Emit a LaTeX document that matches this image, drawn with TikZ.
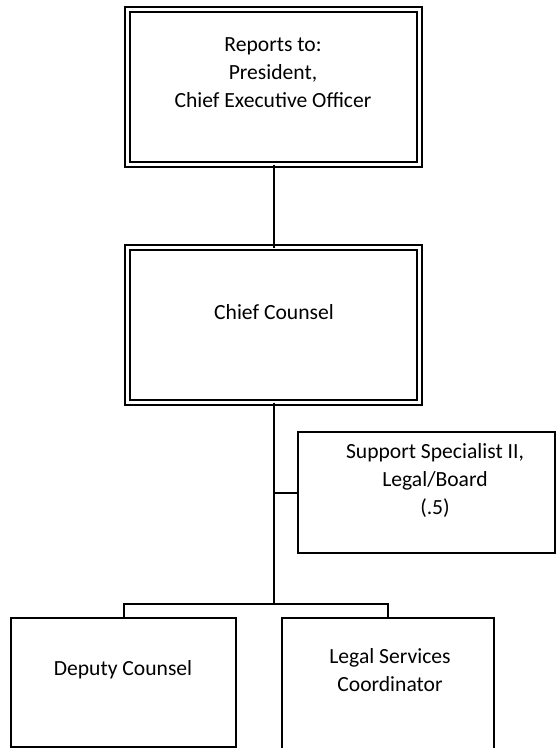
\documentclass[tikz,border=0pt]{standalone}
\usepackage{fontspec}
\setmainfont{Carlito}
\begin{document}
\begin{tikzpicture}[x=1pt,y=-1pt,
  every node/.style={inner sep=0pt, outer sep=0pt},
  dblbox/.style={draw, rectangle, line width=2pt, double, double distance=2.7pt},
  onebox/.style={draw, rectangle, line width=2pt},
  lbl/.style={align=center, font=\fontsize{21.6}{28}\selectfont},
  link/.style={line width=2pt}]
\useasboundingbox (0,0) rectangle (560,748);
% boxes
\node[dblbox, minimum width=292pt, minimum height=155pt] (ceo) at (273.5,87) {};
\node[dblbox, minimum width=292pt, minimum height=155pt] (cc) at (273.5,325) {};
\node[onebox, minimum width=257pt, minimum height=121pt] (sup) at (426.5,492.5) {};
\node[onebox, minimum width=225pt, minimum height=129pt] (dep) at (123.5,682) {};
\node[onebox, minimum width=212pt, minimum height=131pt] (lsc) at (388,683) {};
% texts
\node[lbl] (ceotxt) at (273,73) {Reports to:\\President,\\Chief Executive Officer};
\node[lbl] (cctxt) at (274,312) {Chief Counsel};
\node[lbl] (suptxt) at (435,480) {Support Specialist II,\\Legal/Board\\(.5)};
\node[lbl] (deptxt) at (123,670) {Deputy Counsel};
\node[lbl] (lsctxt) at (390,670) {Legal Services\\Coordinator};
% connectors
\coordinate (bar) at (274,604);
\draw[link] (ceo.south) -- (cc.north);
\draw[link] (cc.south) -- (cc.south |- bar);
\draw[link] (dep.north) |- (bar) -| (lsc.north);
\draw[link] (sup.west) -- (sup.west -| cc.south);
\end{tikzpicture}
\end{document}
